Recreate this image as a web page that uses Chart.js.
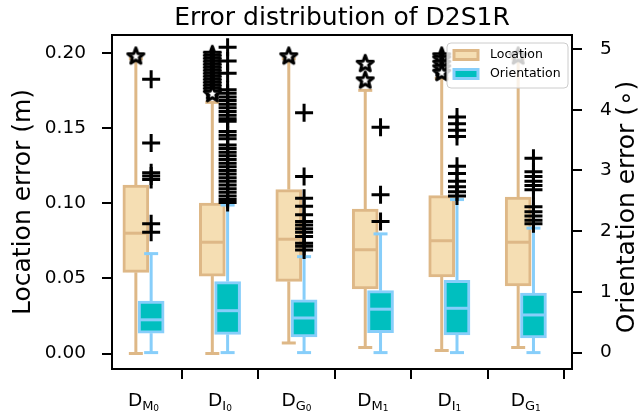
<!DOCTYPE html>
<html>
<head>
<meta charset="utf-8">
<script src="https://cdn.jsdelivr.net/npm/chart.js@4.4.1/dist/chart.umd.min.js"></script>
<style>
  html, body { margin: 0; padding: 0; background: #fff; }
</style>
</head>
<body>
<canvas id="boxChart" width="644" height="417"></canvas>
<script>
// ----------------------------
// DATA
// ----------------------------
const xPos = [1, 2, 3, 4, 5, 6];
const subMain = ["M", "I", "G", "M", "I", "G"];
const subIndex = ["0", "0", "0", "1", "1", "1"];

// location error (m)
const locMin = [0.000, 0.000, 0.007, 0.004, 0.002, 0.004];
const locQ1 = [0.054, 0.0515, 0.048, 0.043, 0.051, 0.045];
const locMed = [0.080, 0.074, 0.076, 0.069, 0.075, 0.074];
const locQ3 = [0.112, 0.100, 0.109, 0.096, 0.105, 0.104];
const locMax = [0.196, 0.167, 0.196, 0.175, 0.183, 0.196];
const locOutliers = [
  [0.198],
  [0.199, 0.197, 0.195, 0.193, 0.191, 0.189, 0.187, 0.185, 0.183, 0.181, 0.179, 0.177, 0.175, 0.173],
  [0.198],
  [0.193, 0.182],
  [0.198, 0.196, 0.193, 0.190, 0.187],
  [0.198],
];

// orientation error (deg)
const oriMin = [0.0, 0.0, 0.0, 0.0, 0.0, 0.0];
const oriQ1 = [0.32, 0.30, 0.26, 0.33, 0.29, 0.24];
const oriMed = [0.54, 0.69, 0.57, 0.715, 0.73, 0.62];
const oriQ3 = [0.85, 1.17, 0.87, 1.02, 1.19, 0.98];
const oriMax = [1.63, 2.43, 1.58, 1.955, 2.52, 2.05];
const oriOutliers = [
  [4.50, 3.45, 2.96, 2.91, 2.85, 2.12, 1.98],
  [5.03, 4.80, 4.60, 4.33, 4.27, 4.21, 4.15, 4.09, 4.03, 3.97, 3.91, 3.85, 3.81,
   3.64, 3.58, 3.52, 3.42, 3.36, 3.30, 3.24, 3.18, 3.12, 3.06, 3.00, 2.94, 2.88,
   2.82, 2.76, 2.70, 2.64, 2.58, 2.52, 2.47],
  [3.95, 2.90, 2.54, 2.41, 2.27, 2.16, 2.10, 2.04, 1.98, 1.91, 1.80, 1.75, 1.69],
  [3.71, 2.60, 2.16],
  [3.88, 3.77, 3.66, 3.56, 3.07, 2.95, 2.82, 2.73, 2.65, 2.58],
  [3.20, 2.98, 2.90, 2.82, 2.75, 2.68, 2.40, 2.32, 2.25, 2.18, 2.12],
];

const locTicks = [0, 0.05, 0.10, 0.15, 0.20];
const oriTicks = [0, 1, 2, 3, 4, 5];

// ----------------------------
// STYLE
// ----------------------------
const FONT = "'DejaVu Sans', 'Liberation Sans', sans-serif";
const LOC_FILL = "#f5deb3";
const LOC_EDGE = "#deb887";
const ORI_FILL = "#00bfbf";
const ORI_EDGE = "#87cefa";
const SHIFT = 0.1;
const BOX_W = 26;
const CAP_W = 14;

function makeStar(r) {
  const c = document.createElement("canvas");
  const s = Math.ceil(r * 2 + 6);
  c.width = c.height = s;
  const g = c.getContext("2d");
  g.beginPath();
  for (let k = 0; k < 10; k++) {
    const rad = k % 2 === 0 ? r : r * 0.42;
    const a = -Math.PI / 2 + (k * Math.PI) / 5;
    g.lineTo(s / 2 + rad * Math.cos(a), s / 2 + 0.6 + rad * Math.sin(a));
  }
  g.closePath();
  g.fillStyle = "#fff";
  g.fill();
  g.lineWidth = 3;
  g.lineJoin = "round";
  g.strokeStyle = "#000";
  g.stroke();
  return c;
}

function fliers(list, shift) {
  const pts = [];
  list.forEach((vals, i) => vals.forEach((v) => pts.push({ x: xPos[i] + shift, y: v })));
  return pts;
}

// ----------------------------
// BOX PARTS PLUGIN (whiskers, caps, medians, labels, legend)
// ----------------------------
function line(ctx, x1, y1, x2, y2) {
  ctx.beginPath();
  ctx.moveTo(x1, y1);
  ctx.lineTo(x2, y2);
  ctx.stroke();
}

const boxParts = {
  id: "boxParts",
  beforeDatasetDraw(chart, args) {
    const ds = chart.data.datasets[args.index];
    if (!ds.stats) return;
    const { ctx } = chart;
    const xs = chart.scales.x;
    const ys = chart.scales[ds.yAxisID];
    const st = ds.stats;
    ctx.save();
    ctx.strokeStyle = ds.borderColor;
    ctx.lineWidth = 3;
    xPos.forEach((p, i) => {
      const x = xs.getPixelForValue(p + ds.shift);
      const yMin = ys.getPixelForValue(st.min[i]);
      const yMax = ys.getPixelForValue(st.max[i]);
      line(ctx, x, ys.getPixelForValue(st.q3[i]), x, yMax);
      line(ctx, x, ys.getPixelForValue(st.q1[i]), x, yMin);
      line(ctx, x - CAP_W / 2, yMin, x + CAP_W / 2, yMin);
      line(ctx, x - CAP_W / 2, yMax, x + CAP_W / 2, yMax);
    });
    ctx.restore();
  },
  afterDatasetDraw(chart, args) {
    const ds = chart.data.datasets[args.index];
    if (!ds.stats) return;
    const { ctx } = chart;
    const xs = chart.scales.x;
    const ys = chart.scales[ds.yAxisID];
    ctx.save();
    ctx.strokeStyle = ds.borderColor;
    ctx.lineWidth = 3;
    xPos.forEach((p, i) => {
      const x = xs.getPixelForValue(p + ds.shift);
      const y = ys.getPixelForValue(ds.stats.med[i]);
      line(ctx, x - BOX_W / 2 + 1, y, x + BOX_W / 2 - 1, y);
    });
    ctx.restore();
  },
  afterDraw(chart) {
    const { ctx, chartArea } = chart;
    const xs = chart.scales.x;
    ctx.save();

    // frame
    ctx.strokeStyle = "#000";
    ctx.lineWidth = 2;
    ctx.strokeRect(chartArea.left, chartArea.top, chartArea.right - chartArea.left, chartArea.bottom - chartArea.top);

    // x tick labels D_{X_n}
    ctx.fillStyle = "#000";
    ctx.textBaseline = "alphabetic";
    ctx.textAlign = "left";
    xPos.forEach((p, i) => {
      const cx = xs.getPixelForValue(p);
      ctx.font = "18.5px " + FONT;
      const w1 = ctx.measureText("D").width;
      ctx.font = "13px " + FONT;
      const w2 = ctx.measureText(subMain[i]).width;
      ctx.font = "9px " + FONT;
      const w3 = ctx.measureText(subIndex[i]).width;
      let x = cx - (w1 + w2 + w3) / 2;
      ctx.font = "18.5px " + FONT;
      ctx.fillText("D", x, 406);
      x += w1;
      ctx.font = "13px " + FONT;
      ctx.fillText(subMain[i], x, 409.5);
      x += w2;
      ctx.font = "9px " + FONT;
      ctx.fillText(subIndex[i], x, 411);
    });

    // right axis title (reads bottom to top)
    ctx.save();
    ctx.translate(627, 207);
    ctx.rotate(-Math.PI / 2);
    ctx.textAlign = "center";
    ctx.textBaseline = "middle";
    ctx.font = "25px " + FONT;
    ctx.fillText("Orientation error (\u2218)", 0, 0);
    ctx.restore();

    // legend
    const lx = 447, ly = 43, lw = 121, lh = 45;
    ctx.beginPath();
    ctx.roundRect(lx, ly, lw, lh, 4);
    ctx.fillStyle = "rgba(255,255,255,0.8)";
    ctx.fill();
    ctx.strokeStyle = "#cccccc";
    ctx.lineWidth = 1;
    ctx.stroke();
    const items = [
      { text: "Location", fill: LOC_FILL, edge: LOC_EDGE, y: 55 },
      { text: "Orientation", fill: ORI_FILL, edge: ORI_EDGE, y: 74 },
    ];
    items.forEach((it) => {
      ctx.fillStyle = it.fill;
      ctx.fillRect(454, it.y - 4.5, 24, 9);
      ctx.strokeStyle = it.edge;
      ctx.lineWidth = 3;
      ctx.strokeRect(454, it.y - 4.5, 24, 9);
      ctx.fillStyle = "#000";
      ctx.font = "12.5px " + FONT;
      ctx.textAlign = "left";
      ctx.textBaseline = "middle";
      ctx.fillText(it.text, 490, it.y);
    });
    ctx.restore();
  },
};

// ----------------------------
// CHART
// ----------------------------
const tickFont = { family: FONT, size: 18.5 };
const axisGrid = { display: true, drawOnChartArea: false, tickLength: 10, lineWidth: 2, color: "#000" };

new Chart(document.getElementById("boxChart"), {
  type: "scatter",
  data: {
    datasets: [
      {
        type: "scatter",
        label: "Orientation outliers",
        data: fliers(oriOutliers, SHIFT),
        yAxisID: "y2",
        pointStyle: "cross",
        radius: 9,
        borderWidth: 3,
        borderColor: "#000",
        order: 1,
      },
      {
        type: "scatter",
        label: "Location outliers",
        data: fliers(locOutliers, -SHIFT),
        yAxisID: "y",
        pointStyle: makeStar(8.5),
        radius: 9,
        order: 2,
      },
      {
        type: "bar",
        label: "Orientation",
        data: xPos.map((p, i) => ({ x: p + SHIFT, y: [oriQ1[i], oriQ3[i]] })),
        yAxisID: "y2",
        backgroundColor: ORI_FILL,
        borderColor: ORI_EDGE,
        borderWidth: 3,
        borderSkipped: false,
        barThickness: BOX_W,
        grouped: false,
        order: 3,
        shift: SHIFT,
        stats: { min: oriMin, q1: oriQ1, med: oriMed, q3: oriQ3, max: oriMax },
      },
      {
        type: "bar",
        label: "Location",
        data: xPos.map((p, i) => ({ x: p - SHIFT, y: [locQ1[i], locQ3[i]] })),
        yAxisID: "y",
        backgroundColor: LOC_FILL,
        borderColor: LOC_EDGE,
        borderWidth: 3,
        borderSkipped: false,
        barThickness: BOX_W,
        grouped: false,
        order: 4,
        shift: -SHIFT,
        stats: { min: locMin, q1: locQ1, med: locMed, q3: locQ3, max: locMax },
      },
    ],
  },
  options: {
    responsive: false,
    animation: false,
    devicePixelRatio: 1,
    layout: { padding: 0 },
    plugins: {
      legend: { display: false },
      tooltip: { enabled: false },
      title: {
        display: true,
        text: "Error distribution of D2S1R",
        fullSize: false,
        color: "#000",
        font: { family: FONT, size: 25, weight: "normal" },
        padding: { top: 3, bottom: 2 },
      },
    },
    scales: {
      x: {
        type: "linear",
        min: 0.588,
        max: 6.604,
        offset: false,
        border: { display: false },
        grid: axisGrid,
        ticks: { display: false },
        afterBuildTicks: (s) => { s.ticks = xPos.map((v) => ({ value: v })); },
        afterFit: (s) => { s.height = 48; },
      },
      y: {
        type: "linear",
        position: "left",
        min: -0.0103,
        max: 0.2118,
        border: { display: false },
        grid: axisGrid,
        ticks: { font: tickFont, color: "#000", padding: 16, callback: (v) => v.toFixed(2) },
        afterBuildTicks: (s) => { s.ticks = locTicks.map((v) => ({ value: v })); },
        afterFit: (s) => { s.width = 112; },
        title: {
          display: true,
          text: "Location error (m)",
          color: "#000",
          font: { family: FONT, size: 25 },
          padding: { top: 8, bottom: 0 },
        },
      },
      y2: {
        type: "linear",
        position: "right",
        min: -0.27,
        max: 5.23,
        border: { display: false },
        grid: axisGrid,
        ticks: { font: tickFont, color: "#000", padding: 18, callback: (v) => String(v) },
        afterBuildTicks: (s) => { s.ticks = oriTicks.map((v) => ({ value: v })); },
        afterFit: (s) => { s.width = 72; },
      },
    },
  },
  plugins: [boxParts],
});
</script>
</body>
</html>
